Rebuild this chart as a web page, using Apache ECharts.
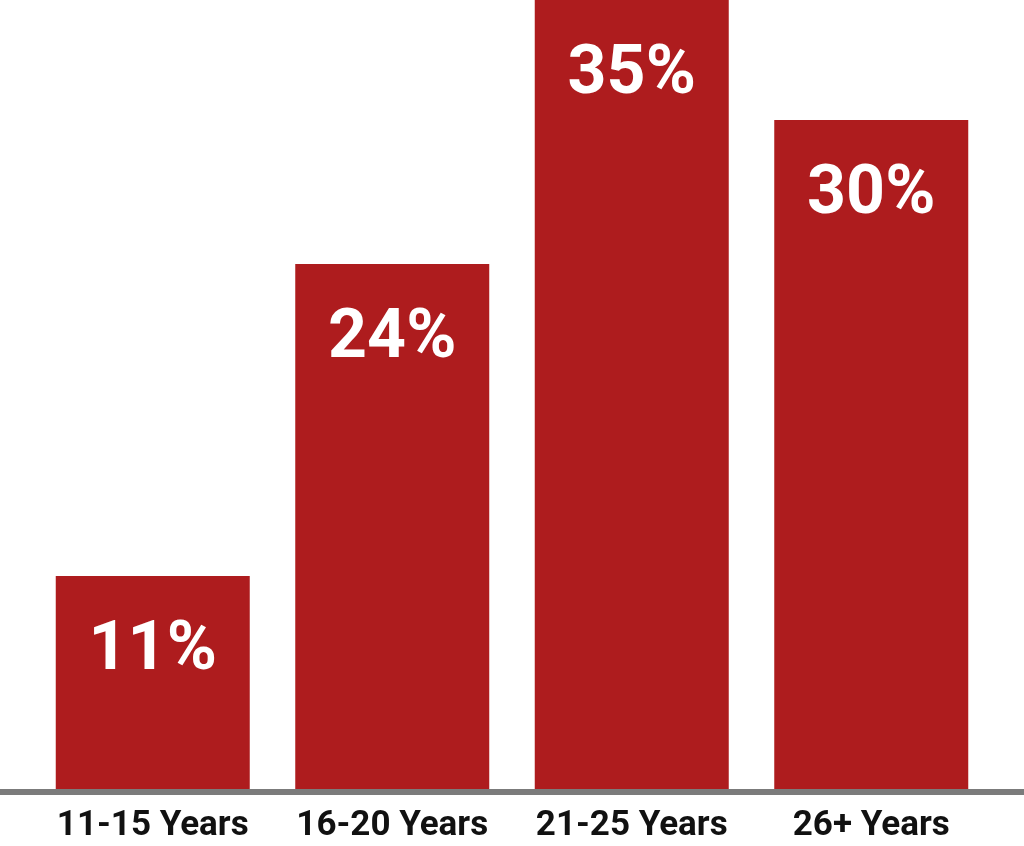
<!DOCTYPE html>
<html><head><meta charset="utf-8">
<script src="https://cdn.jsdelivr.net/npm/echarts@6/dist/echarts.min.js"></script>
<style>html,body{margin:0;padding:0;background:#fff}#c{width:1024px;height:846px}</style>
</head><body><div id="c"></div>
<script>
const categories = ['11-15 Years', '16-20 Years', '21-25 Years', '26+ Years'];
const values = [11, 24, 35, 30];
const chart = echarts.init(document.getElementById('c'), null, {renderer: 'canvas'});
chart.setOption({
  animation: false,
  grid: {left: 33, right: 33, top: 0, bottom: 54, containLabel: false},
  xAxis: {
    type: 'category', data: categories,
    axisLine: {show: true, lineStyle: {color: '#7b7b7b', width: 6}},
    axisTick: {show: false},
    axisLabel: {interval: 0, hideOverlap: false, color: '#111', fontFamily: 'Roboto', fontWeight: 'bold', fontSize: 35, margin: 17}
  },
  yAxis: {type: 'value', min: 2, max: 35, show: false, splitLine: {show: false}},
  series: [{
    type: 'bar', data: values, barWidth: 194,
    itemStyle: {color: '#ae1c1e'},
    label: {show: true, position: 'insideTop', distance: 42, formatter: '{c}%',
      color: '#fff', fontFamily: 'Roboto', fontWeight: 'bold', fontSize: 68}
  }]
});
const y0 = chart.convertToPixel({yAxisIndex: 0}, 2);
chart.setOption({
  graphic: [{type: 'line', z: 100, shape: {x1: 0, y1: y0, x2: 1024, y2: y0},
    style: {stroke: '#7b7b7b', lineWidth: 6}}]
});
</script></body></html>
